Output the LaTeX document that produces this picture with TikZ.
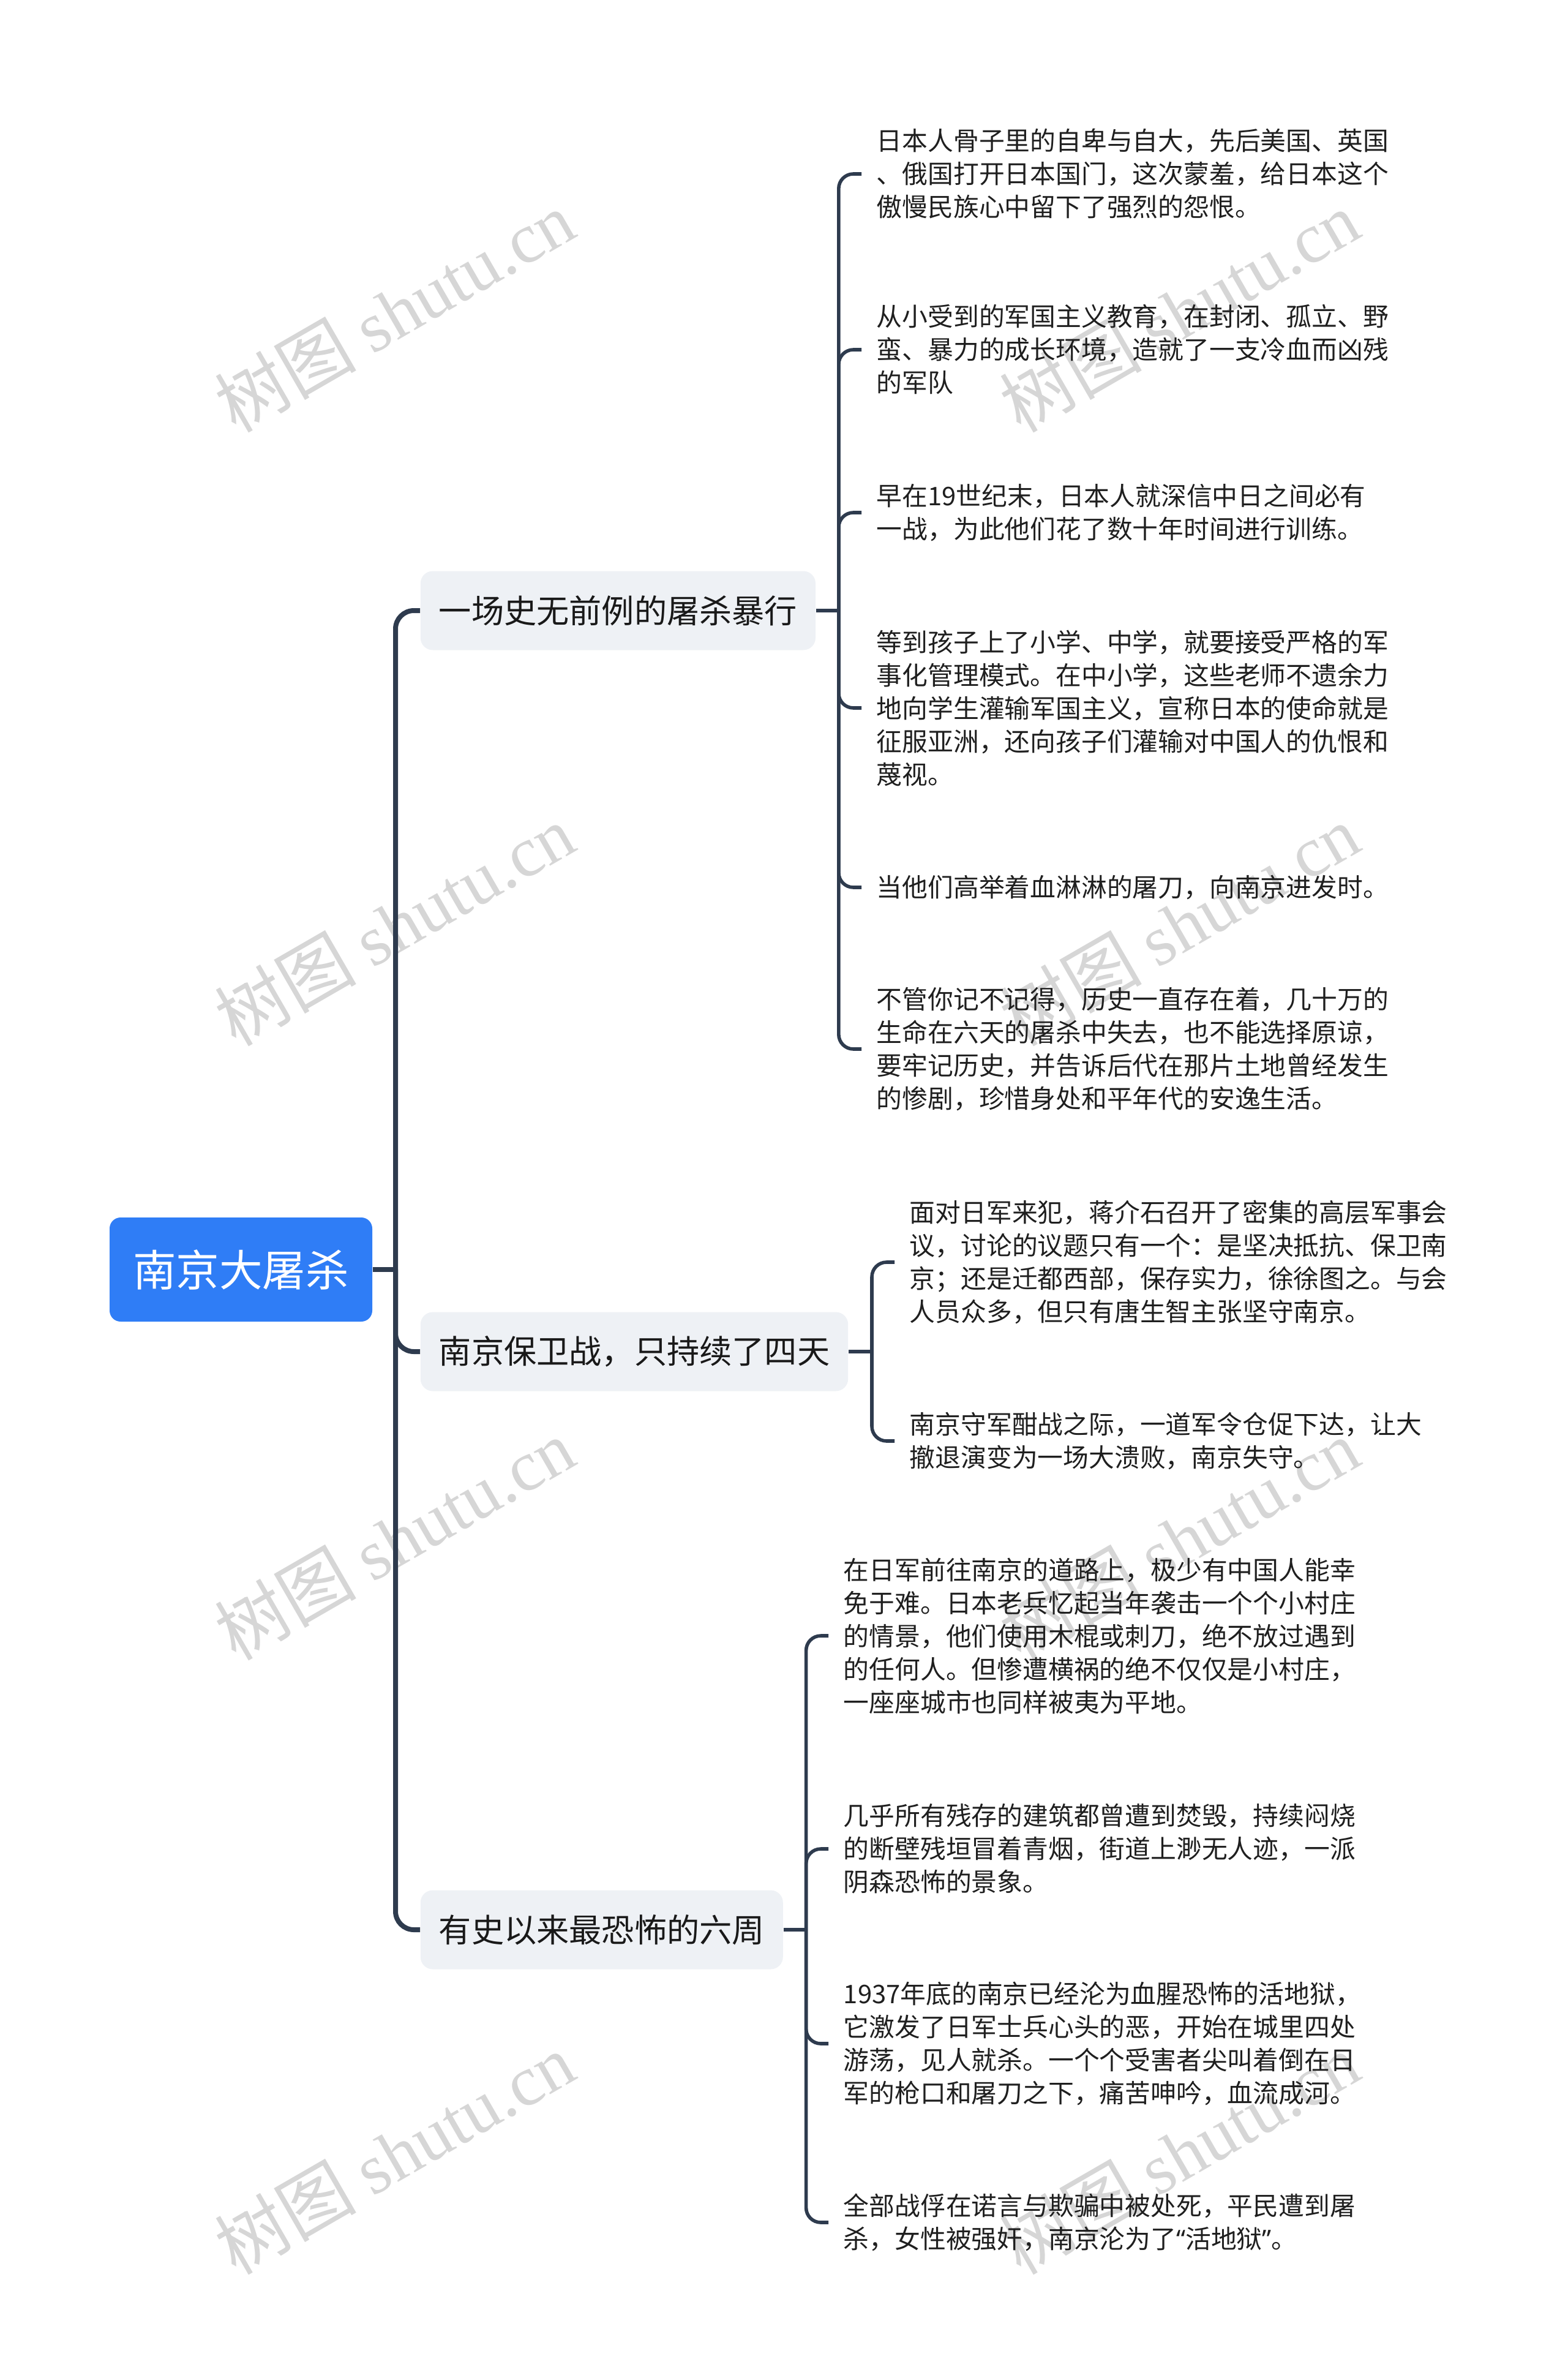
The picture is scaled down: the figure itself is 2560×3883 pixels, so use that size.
\documentclass[tikz,border=0pt]{standalone}
\usepackage{fontspec}
\setmainfont{Noto Sans CJK SC}
\newfontfamily\wmserif{Liberation Serif}
\newfontfamily\quotefont{Noto Sans}
\usepackage{tikz}
\definecolor{edge}{HTML}{2E3B4E}
\definecolor{rootblue}{HTML}{2F7DF6}
\definecolor{topicgray}{HTML}{EEF1F5}
\definecolor{wmgray}{HTML}{D6D6D6}
\newcommand\rootfont{\fontsize{17.65pt}{21pt}\selectfont}
\newcommand\topicfont{\fontsize{13.3pt}{16pt}\selectfont}
\newcommand\leaffont{\fontsize{10.45pt}{13.5pt}\selectfont}

\begin{document}
\begin{tikzpicture}[x=0.25pt,y=-0.25pt,
  root/.style={fill=rootblue,text=white,rounded corners=4.5pt,font=\rootfont,inner xsep=9.5pt,minimum height=42.5pt},
  topic/.style={fill=topicgray,text=black!90,rounded corners=5pt,font=\topicfont,inner xsep=7.5pt,minimum height=32.25pt,anchor=west},
  leaf/.style={align=left,font=\leaffont,text=black!88,inner xsep=6pt,inner ysep=0pt,anchor=west},
  wmark/.style={text=wmgray,rotate=30,font=\fontsize{29pt}{29pt}\selectfont},
  main/.style={draw=edge,line width=2pt,rounded corners=7.5pt},
  sub/.style={draw=edge,line width=1.4pt,rounded corners=6pt}]
\useasboundingbox (0,0) rectangle (2560,3883);
\foreach \x in {644,1926} \foreach \y in {508,1510,2513,3516}
  \node[wmark] (wm-\x-\y) at (\x,\y) {树图 {\wmserif shutu.cn}};

\node[root] (nj) at (393.5,2073) {南京大屠杀};
\node[topic] (atroc) at (686,997) {一场史无前例的屠杀暴行};
\node[topic] (defense) at (686,2207) {南京保卫战，只持续了四天};
\node[topic] (sixwk) at (686,3151) {有史以来最恐怖的六周};

\node[leaf] (a1) at (1407,284) {日本人骨子里的自卑与自大，先后美国、英国\\、俄国打开日本国门，这次蒙羞，给日本这个\\傲慢民族心中留下了强烈的怨恨。};
\node[leaf] (a2) at (1407,571) {从小受到的军国主义教育，在封闭、孤立、野\\蛮、暴力的成长环境，造就了一支冷血而凶残\\的军队};
\node[leaf] (a3) at (1407,837) {早在19世纪末，日本人就深信中日之间必有\\一战，为此他们花了数十年时间进行训练。};
\node[leaf] (a4) at (1407,1156) {等到孩子上了小学、中学，就要接受严格的军\\事化管理模式。在中小学，这些老师不遗余力\\地向学生灌输军国主义，宣称日本的使命就是\\征服亚洲，还向孩子们灌输对中国人的仇恨和\\蔑视。};
\node[leaf] (a5) at (1407,1449) {当他们高举着血淋淋的屠刀，向南京进发时。};
\node[leaf] (a6) at (1407,1713) {不管你记不记得，历史一直存在着，几十万的\\生命在六天的屠杀中失去，也不能选择原谅，\\要牢记历史，并告诉后代在那片土地曾经发生\\的惨剧，珍惜身处和平年代的安逸生活。};

\node[leaf] (c1) at (1461,2061) {面对日军来犯，蒋介石召开了密集的高层军事会\\议，讨论的议题只有一个：是坚决抵抗、保卫南\\京；还是迁都西部，保存实力，徐徐图之。与会\\人员众多，但只有唐生智主张坚守南京。};
\node[leaf] (c2) at (1461,2353) {南京守军酣战之际，一道军令仓促下达，让大\\撤退演变为一场大溃败，南京失守。};

\node[leaf] (d1) at (1353,2671) {在日军前往南京的道路上，极少有中国人能幸\\免于难。日本老兵忆起当年袭击一个个小村庄\\的情景，他们使用木棍或刺刀，绝不放过遇到\\的任何人。但惨遭横祸的绝不仅仅是小村庄，\\一座座城市也同样被夷为平地。};
\node[leaf] (d2) at (1353,3019) {几乎所有残存的建筑都曾遭到焚毁，持续闷烧\\的断壁残垣冒着青烟，街道上渺无人迹，一派\\阴森恐怖的景象。};
\node[leaf] (d3) at (1353,3337) {1937年底的南京已经沦为血腥恐怖的活地狱，\\它激发了日军士兵心头的恶，开始在城里四处\\游荡，见人就杀。一个个受害者尖叫着倒在日\\军的枪口和屠刀之下，痛苦呻吟，血流成河。};
\node[leaf] (d4) at (1353,3629) {全部战俘在诺言与欺骗中被处死，平民遭到屠\\杀，女性被强奸，南京沦为了{\quotefont “}活地狱{\quotefont ”}。};

\coordinate (trunk) at (646,2073);
\draw[main] (nj.east) -- (trunk);
\foreach \t in {atroc,defense,sixwk} \draw[main] (trunk) |- (\t.west);

\coordinate (s1) at ([xshift=9.25pt]atroc.east);
\coordinate (s2) at ([xshift=9.5pt]defense.east);
\coordinate (s3) at ([xshift=9.25pt]sixwk.east);
\draw[sub] (atroc.east) -- (s1);
\draw[sub] (defense.east) -- (s2);
\draw[sub] (sixwk.east) -- (s3);
\foreach \n in {a1,a2,a3,a4,a5,a6} \draw[sub] (s1) |- (\n.west);
\foreach \n in {c1,c2} \draw[sub] (s2) |- (\n.west);
\foreach \n in {d1,d2,d3,d4} \draw[sub] (s3) |- (\n.west);
\end{tikzpicture}
\end{document}
